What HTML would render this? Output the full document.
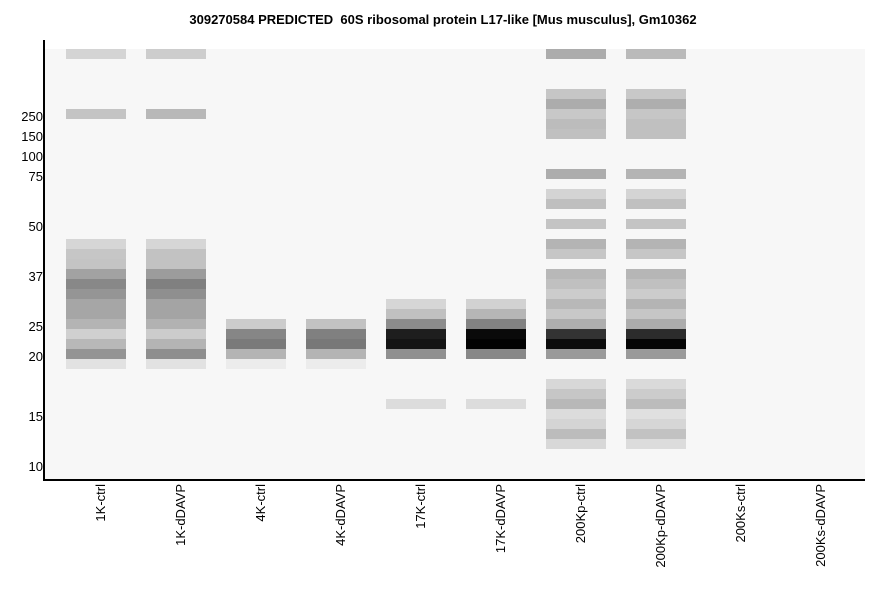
<!DOCTYPE html>
<html><head><meta charset="utf-8"><style>
body{margin:0;background:#fff;width:886px;height:595px;overflow:hidden;font-family:"Liberation Sans",Arial,sans-serif}
</style></head><body>
<svg id="chart" width="886" height="595" xmlns="http://www.w3.org/2000/svg">
<text xml:space="preserve" x="443" y="24" text-anchor="middle" font-family="Liberation Sans, Arial, sans-serif" font-size="13" font-weight="bold">309270584 PREDICTED  60S ribosomal protein L17-like [Mus musculus], Gm10362</text>
<rect x="45" y="49" width="820" height="430" fill="#f7f7f7"/>
<g id="bands"></g>
<g id="yticks"></g>
<g id="xticks"></g>
<line x1="44" y1="40" x2="44" y2="481" stroke="#000" stroke-width="2"/>
<line x1="43" y1="480" x2="865" y2="480" stroke="#000" stroke-width="2"/>
</svg>
<script>
const lanes = ["1K-ctrl","1K-dDAVP","4K-ctrl","4K-dDAVP","17K-ctrl","17K-dDAVP","200Kp-ctrl","200Kp-dDAVP","200Ks-ctrl","200Ks-dDAVP"];
const yTickLabels = ["250","150","100","75","50","37","25","20","15","10"];
const yTickRows = [6.7,8.7,10.7,12.7,17.7,22.7,27.7,30.7,36.7,41.7];
// band rows (10-px row index from top of gel) and gray intensity (0-255)
const lane0Rows = [0,6,19,20,21,22,23,24,25,26,27,28,29,30,31];
const lane0Gray = [212,196,214,198,196,162,136,149,166,166,180,208,184,148,226];
const lane1Rows = [0,6,19,20,21,22,23,24,25,26,27,28,29,30,31];
const lane1Gray = [205,184,214,194,194,156,128,143,164,164,178,204,180,142,226];
const lane2Rows = [27,28,29,30,31];
const lane2Gray = [204,134,122,180,236];
const lane3Rows = [27,28,29,30,31];
const lane3Gray = [194,128,120,180,236];
const lane4Rows = [25,26,27,28,29,30,35];
const lane4Gray = [214,192,140,30,20,144,220];
const lane5Rows = [25,26,27,28,29,30,35];
const lane5Gray = [210,182,130,10,3,136,220];
const lane6Rows = [0,4,5,6,7,8,12,14,15,17,19,20,22,23,24,25,26,27,28,29,30,33,34,35,36,37,38,39];
const lane6Gray = [172,198,172,200,188,192,173,212,191,196,180,198,184,192,204,184,200,174,51,12,154,216,198,184,220,212,188,216];
const lane7Rows = [0,4,5,6,7,8,12,14,15,17,19,20,22,23,24,25,26,27,28,29,30,33,34,35,36,37,38,39];
const lane7Gray = [186,200,174,198,192,192,180,212,192,196,180,198,182,192,204,180,198,172,44,5,154,218,204,188,224,214,194,220];
const lane8Rows = [];
const lane8Gray = [];
const lane9Rows = [];
const lane9Gray = [];
const laneRows = [lane0Rows,lane1Rows,lane2Rows,lane3Rows,lane4Rows,lane5Rows,lane6Rows,lane7Rows,lane8Rows,lane9Rows];
const laneGray = [lane0Gray,lane1Gray,lane2Gray,lane3Gray,lane4Gray,lane5Gray,lane6Gray,lane7Gray,lane8Gray,lane9Gray];

const NS="http://www.w3.org/2000/svg";
const xScale = i => 96 + i*80;      // lane center
const yScale = r => 49 + r*10;       // row top
const bandW = 60, bandH = 10;

const gB=document.getElementById('bands');
laneRows.forEach((rows,i)=>{
  rows.forEach((r,j)=>{
    const g=laneGray[i][j];
    const rc=document.createElementNS(NS,'rect');
    
    
    rc.setAttribute('x',xScale(i)-bandW/2);
    rc.setAttribute('y',yScale(r));
    rc.setAttribute('width',bandW);
    rc.setAttribute('height',bandH);
    rc.setAttribute('fill',`rgb(${g},${g},${g})`);
    gB.appendChild(rc);
  });
});
const gY=document.getElementById('yticks');
yTickLabels.forEach((l,i)=>{
  const t=document.createElementNS(NS,'text');
  
  
  t.setAttribute('x',43);
  t.setAttribute('y',yScale(yTickRows[i])+5);
  t.setAttribute('text-anchor','end');
  t.setAttribute('font-size','13');
  t.setAttribute('font-family','Liberation Sans, Arial, sans-serif');
  t.textContent=l;
  gY.appendChild(t);
});
const gX=document.getElementById('xticks');
lanes.forEach((l,i)=>{
  const t=document.createElementNS(NS,'text');
  
  
  const x=xScale(i)+9, y=484;
  t.setAttribute('x',x);
  t.setAttribute('y',y);
  t.setAttribute('text-anchor','end');
  t.setAttribute('font-size','13');
  t.setAttribute('font-family','Liberation Sans, Arial, sans-serif');
  t.setAttribute('transform',`rotate(-90 ${x} ${y})`);
  t.textContent=l;
  gX.appendChild(t);
});
</script>
</body></html>
